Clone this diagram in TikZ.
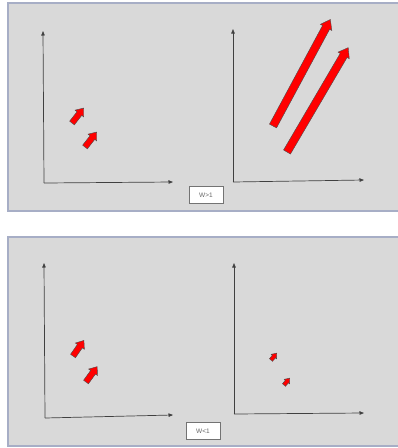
\documentclass[tikz,border=0pt]{standalone}
\usepackage{fontspec}
\setmainfont{Liberation Sans}
\usetikzlibrary{arrows.meta}
\definecolor{panelfill}{HTML}{D9D9D9}
\definecolor{panelline}{HTML}{A7AEC6}
\definecolor{arrowred}{HTML}{FF0000}
\tikzset{
  panel/.style={fill=panelfill, draw=panelline, line width=1.4pt},
  axis/.style={draw=black!75, line width=0.7pt, -{Triangle[length=4.5pt,width=3.5pt]}},
  redarrow/.style={fill=arrowred, draw=black!70, line width=0.4pt, line join=miter},
  labelbox/.style={draw=black!55, fill=white, line width=0.5pt, minimum width=34pt, minimum height=17pt, inner sep=0pt, font=\fontsize{6.5}{7}\selectfont, text=black!60}
}
% #1 x, #2 y (tail), #3 angle, #4 length, #5 shaft half width, #6 head half width, #7 head length
\newcommand{\blockarrow}[7]{%
  \begin{scope}[shift={(#1,#2)}, rotate=#3]
    \draw[redarrow] (0,-#5) -- ({#4-#7},-#5) -- ({#4-#7},-#6) -- (#4,0) -- ({#4-#7},#6) -- ({#4-#7},#5) -- (0,#5) -- cycle;
  \end{scope}}
\begin{document}
\begin{tikzpicture}[x=1pt,y=-1pt]
\useasboundingbox (0,0) rectangle (398,448);
\fill[white] (0,0) rectangle (398,448);
% panels
\draw[panel] (8,3) rectangle (402,211);
\draw[panel] (8,237) rectangle (402,446);
% top-left axes
\coordinate (tlo) at (44,183);
\coordinate (tly) at (43,31);
\coordinate (tlx) at (173,182);
\draw[axis] (tlo) -- (tly);
\draw[axis] (tlo) -- (tlx);
% top-right axes
\coordinate (tro) at (233,182);
\coordinate (try) at (233,29);
\coordinate (trx) at (364,180);
\draw[axis] (tro) -- (try);
\draw[axis] (tro) -- (trx);
% bottom-left axes
\coordinate (blo) at (45,418);
\coordinate (bly) at (44,263);
\coordinate (blx) at (173,415);
\draw[axis] (blo) -- (bly);
\draw[axis] (blo) -- (blx);
% bottom-right axes
\coordinate (bro) at (234,414);
\coordinate (bry) at (234,263);
\coordinate (brx) at (364,413);
\draw[axis] (bro) -- (bry);
\draw[axis] (bro) -- (brx);
% top-left small arrows
\blockarrow{72}{123}{52}{19}{3}{5.5}{7}
\blockarrow{85}{147}{52}{19}{3}{5.5}{7}
% top-right long arrows
\blockarrow{273}{126}{61.7}{121}{4}{6.5}{9}
\blockarrow{287}{152}{59.6}{121}{4}{6.5}{9}
% bottom-left small arrows
\blockarrow{73}{356}{55}{19}{3}{5.5}{7}
\blockarrow{86}{382}{54}{19}{3}{5.5}{7}
% bottom-right tiny arrows
\blockarrow{271}{360}{50}{9}{2}{3.5}{4.5}
\blockarrow{284}{385}{50}{9}{2}{3.5}{4.5}
% labels
\node[labelbox] (lab1) at (206,195) {W>1};
\node[labelbox] (lab2) at (203,431) {W<1};
\end{tikzpicture}
\end{document}
